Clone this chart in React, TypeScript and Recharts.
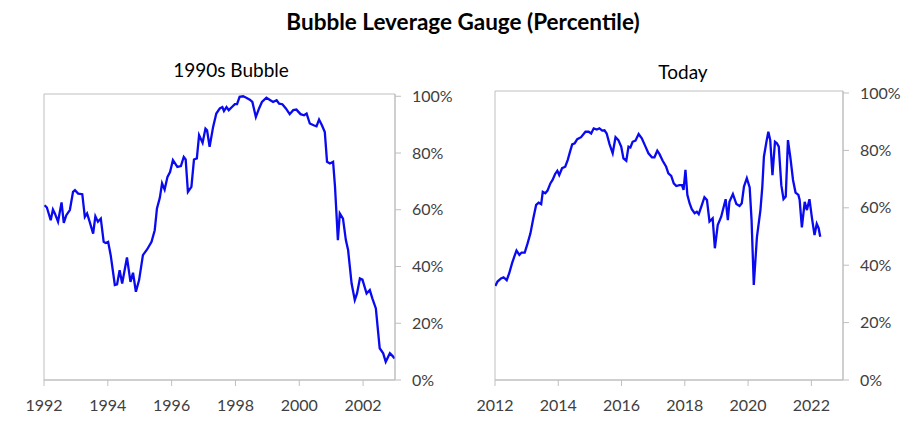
import { LineChart, Line, XAxis, YAxis, ReferenceArea } from 'recharts'

document.body.style.margin = '0'

// 1990s bubble: decimal year / percentile
const bubbleYears = [
  1992.02, 1992.09, 1992.21, 1992.28, 1992.34, 1992.44, 1992.55, 1992.62, 1992.7, 1992.81,
  1992.91, 1992.97, 1993.07, 1993.2, 1993.28, 1993.35, 1993.43, 1993.54, 1993.61, 1993.69,
  1993.78, 1993.87, 1993.93, 1994.01, 1994.09, 1994.22, 1994.29, 1994.37, 1994.45, 1994.6,
  1994.71, 1994.79, 1994.88, 1994.98, 1995.1, 1995.23, 1995.37, 1995.47, 1995.54, 1995.63,
  1995.7, 1995.78, 1995.87, 1995.95, 1996.04, 1996.18, 1996.29, 1996.38, 1996.44, 1996.51,
  1996.62, 1996.7, 1996.79, 1996.86, 1996.97, 1997.06, 1997.11, 1997.19, 1997.3, 1997.4,
  1997.51, 1997.59, 1997.64, 1997.72, 1997.79, 1997.89, 1997.98, 1998.05, 1998.13, 1998.24,
  1998.34, 1998.45, 1998.53, 1998.64, 1998.74, 1998.83, 1998.97, 1999.08, 1999.18, 1999.29,
  1999.37, 1999.47, 1999.58, 1999.7, 1999.81, 1999.91, 2000.04, 2000.15, 2000.23, 2000.33,
  2000.45, 2000.54, 2000.62, 2000.71, 2000.8, 2000.87, 2000.96, 2001.06, 2001.12, 2001.21,
  2001.27, 2001.37, 2001.46, 2001.53, 2001.64, 2001.74, 2001.81, 2001.9, 2001.98, 2002.11,
  2002.21, 2002.29, 2002.4, 2002.52, 2002.63, 2002.71, 2002.84, 2002.92, 2002.99,
]
const bubbleValues = [
  61.6, 60.8, 56.3, 60.1, 58.7, 55.8, 62.6, 55.4, 58.1, 59.9,
  66.3, 66.9, 65.7, 65.5, 57.5, 58.7, 55.8, 51.6, 57.7, 55.8,
  56.9, 48.7, 48.3, 48.7, 44.0, 33.5, 33.7, 38.7, 34.0, 43.2,
  34.6, 37.8, 31.1, 35.2, 44.0, 46.0, 48.7, 52.8, 60.5, 64.2,
  69.3, 67.1, 71.6, 73.3, 77.5, 75.1, 75.4, 78.6, 77.7, 66.3,
  68.1, 77.7, 78.1, 86.3, 83.6, 88.6, 88.0, 82.2, 89.2, 93.9,
  95.7, 96.2, 94.8, 96.2, 95.1, 96.2, 97.2, 97.2, 99.8, 100,
  99.5, 98.8, 98.0, 92.7, 95.7, 98.0, 99.5, 98.7, 98.0, 98.6,
  97.4, 97.2, 95.7, 93.7, 95.1, 95.3, 93.7, 93.3, 93.9, 90.4,
  89.8, 89.4, 91.8, 89.8, 87.4, 76.9, 76.3, 76.9, 68.1, 49.3,
  58.7, 56.9, 49.3, 45.8, 34.0, 28.2, 30.5, 35.8, 35.4, 30.5,
  31.7, 28.8, 25.2, 11.2, 9.4, 6.4, 9.4, 8.5, 7.6,
]

// Today: decimal year / percentile
const todayYears = [
  2012.01, 2012.08, 2012.19, 2012.27, 2012.37, 2012.45, 2012.54, 2012.61, 2012.68, 2012.77,
  2012.84, 2012.94, 2013.03, 2013.12, 2013.21, 2013.3, 2013.38, 2013.46, 2013.51, 2013.59,
  2013.66, 2013.75, 2013.82, 2013.9, 2013.97, 2014.03, 2014.12, 2014.22, 2014.3, 2014.37,
  2014.44, 2014.52, 2014.6, 2014.72, 2014.86, 2014.96, 2015.04, 2015.12, 2015.22, 2015.3,
  2015.39, 2015.46, 2015.53, 2015.62, 2015.72, 2015.81, 2015.9, 2015.99, 2016.06, 2016.15,
  2016.22, 2016.28, 2016.35, 2016.44, 2016.54, 2016.64, 2016.75, 2016.85, 2016.96, 2017.04,
  2017.13, 2017.2, 2017.3, 2017.41, 2017.48, 2017.57, 2017.65, 2017.73, 2017.83, 2017.91,
  2017.96, 2018.02, 2018.08, 2018.15, 2018.22, 2018.31, 2018.38, 2018.44, 2018.54, 2018.62,
  2018.7, 2018.78, 2018.88, 2018.95, 2019.04, 2019.15, 2019.29, 2019.36, 2019.41, 2019.52,
  2019.63, 2019.73, 2019.8, 2019.87, 2019.96, 2020.05, 2020.11, 2020.18, 2020.28, 2020.39,
  2020.45, 2020.5, 2020.58, 2020.64, 2020.7, 2020.77, 2020.85, 2020.91, 2020.97, 2021.05,
  2021.12, 2021.19, 2021.26, 2021.34, 2021.42, 2021.5, 2021.59, 2021.63, 2021.7, 2021.79,
  2021.86, 2021.94, 2022.02, 2022.1, 2022.17, 2022.23, 2022.28,
]
const todayValues = [
  32.8, 34.3, 35.4, 35.8, 34.8, 37.2, 40.7, 43.0, 45.1, 43.6,
  44.4, 44.4, 47.6, 51.1, 56.3, 61.0, 61.8, 61.3, 65.6, 65.1,
  66.0, 68.5, 69.7, 71.8, 72.9, 71.4, 73.8, 74.3, 76.7, 79.5,
  82.1, 82.5, 83.9, 84.6, 86.5, 86.5, 85.9, 87.7, 87.3, 87.7,
  86.9, 87.0, 85.9, 82.2, 79.0, 84.6, 83.6, 81.3, 77.2, 76.4,
  81.3, 81.0, 83.0, 83.4, 85.7, 84.2, 81.5, 79.0, 77.6, 77.6,
  79.9, 78.7, 76.4, 74.3, 72.0, 71.1, 68.5, 67.6, 67.9, 67.9,
  66.2, 73.2, 64.5, 61.6, 59.5, 58.1, 58.6, 57.8, 61.0, 63.7,
  62.7, 55.2, 56.3, 45.9, 54.0, 56.9, 63.0, 55.7, 62.1, 64.8,
  61.3, 60.6, 61.6, 67.4, 70.3, 67.1, 55.7, 33.1, 49.9, 59.2,
  67.4, 77.8, 83.0, 86.5, 83.6, 71.4, 83.0, 82.5, 81.3, 67.9,
  63.0, 63.9, 83.6, 77.2, 69.7, 65.3, 64.5, 62.7, 53.2, 62.1,
  59.2, 63.0, 56.3, 50.5, 54.4, 52.9, 49.9,
]

const bubbleTicks = [1992, 1994, 1996, 1998, 2000, 2002]
const todayTicks = [2012, 2014, 2016, 2018, 2020, 2022]
const pctTicks = [0, 20, 40, 60, 80, 100]

const bubbleData = bubbleYears.map((year, i) => ({ year, value: bubbleValues[i] }))
const todayData = todayYears.map((year, i) => ({ year, value: todayValues[i] }))

const FONT = 'Lato, "Open Sans", sans-serif'
const AXIS = '#bfbfbf'
const TEXT = '#404040'

type PanelProps = {
  data: { year: number; value: number }[]
  ticks: number[]
  domain: [number, number]
  yTop: number
  width: number
  margin: { top: number; right: number; bottom: number; left: number }
  yWidth: number
}

function Panel({ data, ticks, domain, yTop, width, margin, yWidth }: PanelProps) {
  return (
    <LineChart width={width} height={421} data={data} margin={margin}>
      <ReferenceArea
        x1={domain[0]}
        x2={domain[1]}
        y1={0}
        y2={yTop}
        fill='none'
        stroke={AXIS}
        strokeWidth={1}
      />
      <XAxis
        dataKey='year'
        type='number'
        domain={domain}
        ticks={ticks}
        allowDataOverflow
        stroke={AXIS}
        tickSize={6}
        tickMargin={14}
        height={40}
        tick={{ fill: TEXT, fontSize: 16, fontFamily: FONT }}
      />
      <YAxis
        orientation='right'
        type='number'
        domain={[0, yTop]}
        ticks={pctTicks}
        allowDataOverflow
        stroke={AXIS}
        tickSize={6}
        tickMargin={11}
        width={yWidth}
        tickFormatter={(v) => `${v}%`}
        tick={{ fill: TEXT, fontSize: 16, fontFamily: FONT, textAnchor: 'start' }}
      />
      <Line
        dataKey='value'
        stroke='#0a0af0'
        strokeWidth={2.3}
        dot={false}
        isAnimationActive={false}
      />
    </LineChart>
  )
}

export default function App() {
  return (
    <div style={{ position: 'relative', width: 921, height: 421, background: '#fff', fontFamily: FONT }}>
      <div
        style={{
          position: 'absolute',
          top: 8,
          left: 0,
          width: 926,
          textAlign: 'center',
          fontSize: 22.5,
          fontWeight: 700,
          color: '#000',
        }}
      >
        Bubble Leverage Gauge (Percentile)
      </div>
      <div style={{ position: 'absolute', top: 58, left: 131, width: 200, textAlign: 'center', fontSize: 19, color: '#000' }}>
        1990s Bubble
      </div>
      <div style={{ position: 'absolute', top: 60, left: 583, width: 200, textAlign: 'center', fontSize: 19, color: '#000' }}>
        Today
      </div>
      <div style={{ position: 'absolute', top: 0, left: 0 }}>
        <Panel
          data={bubbleData}
          ticks={bubbleTicks}
          domain={[1992, 2003]}
          yTop={100.8}
          width={470}
          margin={{ top: 94, right: 0, bottom: 1, left: 44 }}
          yWidth={75}
        />
      </div>
      <div style={{ position: 'absolute', top: 0, left: 450 }}>
        <Panel
          data={todayData}
          ticks={todayTicks}
          domain={[2012, 2023]}
          yTop={100.7}
          width={471}
          margin={{ top: 91, right: 0, bottom: 1, left: 45 }}
          yWidth={78}
        />
      </div>
    </div>
  )
}
